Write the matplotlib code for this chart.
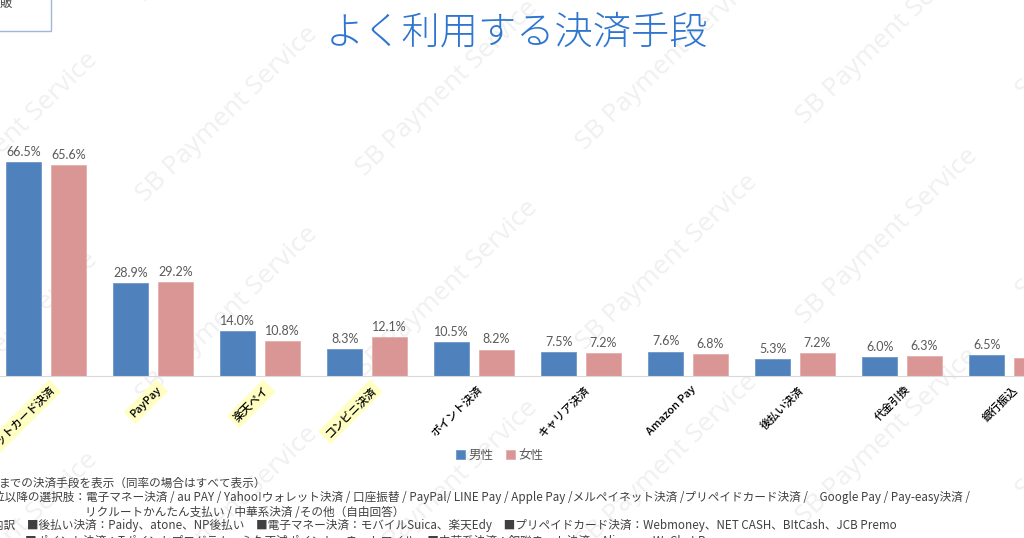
import numpy as np
import matplotlib
matplotlib.use('Agg')
import matplotlib.pyplot as plt
from matplotlib.patches import Rectangle

plt.rcParams['font.family'] = ['Noto Sans CJK JP', 'DejaVu Sans']

# データ
categories = ['クレジットカード決済', 'PayPay', '楽天ペイ', 'コンビニ決済', 'ポイント決済',
              'キャリア決済', 'Amazon Pay', '後払い決済', '代金引換', '銀行振込']
male = [66.5, 28.9, 14.0, 8.3, 10.5, 7.5, 7.6, 5.3, 6.0, 6.5]
female = [65.6, 29.2, 10.8, 12.1, 8.2, 7.2, 6.8, 7.2, 6.3, 5.5]
highlighted = ['クレジットカード決済', 'PayPay', '楽天ペイ', 'コンビニ決済']
series_names = ['男性', '女性']

notes = [
    'までの決済手段を表示（同率の場合はすべて表示）',
    '位以降の選択肢：電子マネー決済 / au PAY / Yahoo!ウォレット決済 / 口座振替 / PayPal/ LINE Pay / '
    'Apple Pay /メルペイネット決済 /プリペイドカード決済 /　Google Pay / Pay-easy決済 /',
    'リクルートかんたん支払い / 中華系決済 /その他（自由回答）',
    '内訳　■後払い決済：Paidy、atone、NP後払い　■電子マネー決済：モバイルSuica、楽天Edy　'
    '■プリペイドカード決済：Webmoney、NET CASH、BItCash、JCB Premo',
    '■ポイント決済：Tポイントプログラム、永久不滅ポイント、ネットマイル　■中華系決済：銀聯ネット決済、Alipay+、WeChat Pay',
]

W, H = 1024, 538
fig = plt.figure(figsize=(W / 100, H / 100), dpi=100)
fig.patch.set_facecolor('white')

# 透かし
for j in range(-1, 4):
    for i in range(-1, 6):
        cx = 7 + i * 220
        cy = 140 + j * 200 - i * 26
        fig.text(cx / W, 1 - cy / H, 'SB Payment Service', rotation=44,
                 ha='center', va='center', fontsize=19, color='#f0f0f0',
                 family='Open Sans', zorder=-5)

# 棒グラフ
ax = fig.add_axes([0, 1 - 376 / H, 1, 80 * 3.218 / H])
ax.patch.set_alpha(0)
x = np.arange(len(categories))
bw = 0.327
off = 0.208
b1 = ax.bar(x - off, male, bw, color='#4F81BD', edgecolor='#6f97c9', linewidth=0.6, label=series_names[0])
b2 = ax.bar(x + off, female, bw, color='#D99694', edgecolor='#e3aeac', linewidth=0.6, label=series_names[1])

for bars in (b1, b2):
    for b in bars:
        ax.annotate(f'{b.get_height():.1f}%', (b.get_x() + b.get_width() / 2, b.get_height()),
                    xytext=(0, 3), textcoords='offset points', ha='center', va='bottom',
                    fontsize=9, color='#595959', family='Lato')

ax.set_xlim(-46 / 107, (W - 46) / 107)
ax.set_ylim(0, 80)
for s in ['top', 'right', 'left']:
    ax.spines[s].set_visible(False)
ax.spines['bottom'].set_color('#d9d9d9')
ax.set_yticks([])
ax.set_xticks(x + 0.03)
ax.set_xticklabels(categories, rotation=45, ha='right', va='top', rotation_mode='anchor',
                   fontsize=8, color='black', fontweight='medium')
ax.tick_params(axis='x', length=0, pad=6)
for lbl in ax.get_xticklabels():
    if lbl.get_text() in highlighted:
        lbl.set_bbox(dict(facecolor='#ffffc4', edgecolor='none', pad=2.5))

fig.legend(loc='center', bbox_to_anchor=(500 / W, 1 - 455 / H), ncol=2, frameon=False,
           fontsize=9, handlelength=0.7, handleheight=0.7, handletextpad=0.3,
           columnspacing=1.0, labelcolor='#595959')

# タイトル
fig.text(517 / W, 1 - 33 / H, 'よく利用する決済手段', ha='center', va='center',
         fontsize=27.5, color='#2e75d0', fontweight='light')

# 左上のボックス
fig.patches.append(Rectangle((-0.01, 1 - 31 / H), 0.01 + 51 / W, 31 / H + 0.01,
                             transform=fig.transFigure, facecolor='white',
                             edgecolor='#9fb6d8', linewidth=1, zorder=2))
fig.text(0, 1 - 3 / H, '販', ha='left', va='center', fontsize=9, color='#404040', zorder=3)

# 注記
note_pos = [(-1, 483), (-7, 497), (85, 512), (-8, 525), (25, 541)]
for (nx, ny), t in zip(note_pos, notes):
    fig.text(nx / W, 1 - ny / H, t, ha='left', va='center', fontsize=8.4, color='#404040')

fig.savefig('out.png', dpi=100)
